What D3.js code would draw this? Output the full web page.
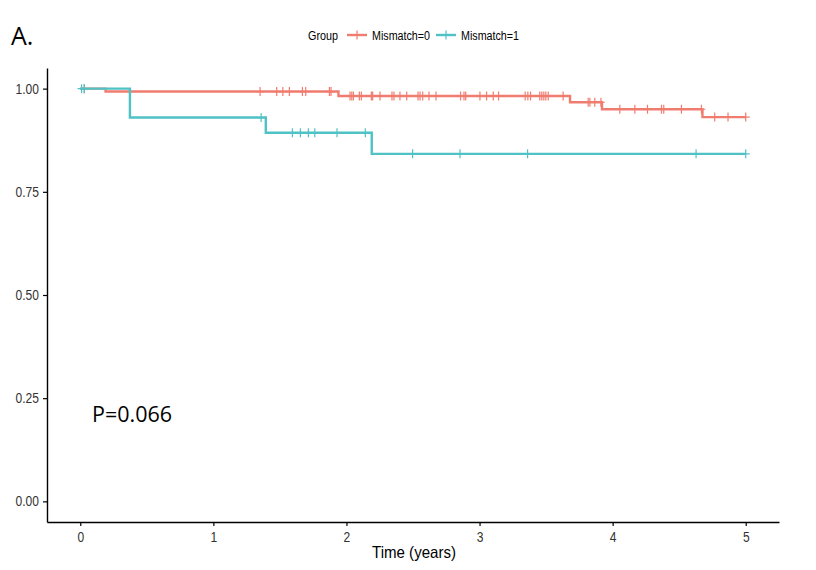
<!DOCTYPE html>
<html><head><meta charset="utf-8">
<script src="https://cdn.jsdelivr.net/npm/d3@7"></script>
<style>body{margin:0;background:#fff}</style>
</head><body>
<svg id="c" width="816" height="570"></svg>
<script>
const groups = ["Mismatch=0", "Mismatch=1"];
const colors = ["#F07C70", "#4FC2C6"];
// Mismatch=0
const g0EventTimes = [0.19, 1.94, 3.68, 3.92, 4.675];
const g0Survival = [0.993, 0.982, 0.967, 0.950, 0.931];
const g0Censor = [0.03, 1.351, 1.476, 1.522, 1.571, 1.669, 1.694, 1.872, 1.884,
  2.027, 2.04, 2.052, 2.097, 2.112, 2.187, 2.197, 2.252, 2.342, 2.357, 2.402, 2.453,
  2.538, 2.553, 2.573, 2.62, 2.673, 2.858, 2.883, 2.896, 3.003, 3.053, 3.103, 3.143,
  3.343, 3.363, 3.383, 3.453, 3.468, 3.483, 3.498, 3.516, 3.628, 3.816, 3.829, 3.866,
  3.912, 4.054, 4.167, 4.262, 4.367, 4.384, 4.517, 4.667, 4.767, 4.867, 5.0];
const g0End = 5.0;
// Mismatch=1
const g1EventTimes = [0.373, 1.394, 2.19];
const g1Survival = [0.930, 0.893, 0.842];
const g1Censor = [0.01, 0.03, 1.359, 1.594, 1.654, 1.714, 1.762, 1.929, 2.142,
  2.497, 2.853, 3.361, 4.627, 5.0];
const g1End = 5.0;

const xTicks = [0, 1, 2, 3, 4, 5];
const yTicks = [0, 0.25, 0.5, 0.75, 1.0];

const FONT = "Liberation Sans, Arial, sans-serif";
const svg = d3.select("#c");
const x = d3.scaleLinear().domain([-0.25, 5.25]).range([47, 779]);
const y = d3.scaleLinear().domain([-0.05, 1.05]).range([522, 68]);

// axes
const xAxis = svg.append("g").attr("transform", "translate(0,522)")
  .call(d3.axisBottom(x).tickValues(xTicks).tickSize(4).tickSizeOuter(0).tickFormat(d3.format("d")));
const yAxis = svg.append("g").attr("transform", "translate(47,0)")
  .call(d3.axisLeft(y).tickValues(yTicks).tickSize(4).tickSizeOuter(0).tickFormat(d3.format(".2f")));
[xAxis, yAxis].forEach(a => {
  a.select(".domain").attr("stroke", "#000").attr("stroke-width", 1.4);
  a.selectAll(".tick line").attr("stroke", "#000").attr("stroke-width", 1.2);
  a.selectAll(".tick text").attr("fill", "#333")
    .attr("font-family", FONT).attr("font-size", 14);
});
xAxis.selectAll(".tick text").attr("dy", "0.95em");
[xAxis, yAxis].forEach(a => a.selectAll(".tick text").each(function() {
  const w = this.getComputedTextLength();
  d3.select(this).attr("textLength", w * 0.86).attr("lengthAdjust", "spacingAndGlyphs");
}));
yAxis.selectAll(".tick text").attr("dx", "-1px");

svg.append("text").attr("x", 414).attr("y", 558).attr("text-anchor", "middle")
  .attr("font-family", FONT).attr("font-size", 16.5)
  .attr("textLength", 84).attr("lengthAdjust", "spacingAndGlyphs")
  .attr("fill", "#000").text("Time (years)");

function stepPoints(times, surv, end) {
  const pts = [[0, 1]];
  let cur = 1;
  times.forEach((t, i) => { pts.push([t, cur]); cur = surv[i]; pts.push([t, cur]); });
  pts.push([end, cur]);
  return pts;
}
function survAt(times, surv, t) {
  let s = 1;
  times.forEach((tt, i) => { if (tt <= t) s = surv[i]; });
  return s;
}
const data = [
  {times: g0EventTimes, surv: g0Survival, cens: g0Censor, end: g0End},
  {times: g1EventTimes, surv: g1Survival, cens: g1Censor, end: g1End}
];
const line = d3.line().x(d => x(d[0])).y(d => y(d[1]));
data.forEach((d, i) => {
  svg.append("path").datum(stepPoints(d.times, d.surv, d.end))
    .attr("d", line).attr("fill", "none").attr("stroke", colors[i]).attr("stroke-width", 2.4);
  const g = svg.append("g");
  d.cens.forEach(t => {
    const cx = x(t), cy = y(survAt(d.times, d.surv, t));
    g.append("path").attr("d", `M${cx},${cy - 4.5}V${cy + 4.5}M${cx - 4},${cy}H${cx + 4}`)
      .attr("stroke", colors[i]).attr("stroke-width", 1.2).attr("fill", "none");
  });
});

// legend
const lg = svg.append("g").attr("font-family", FONT).attr("font-size", 12.5);
lg.append("text").attr("x", 308).attr("y", 39.5).text("Group").attr("fill", "#000")
  .attr("textLength", 30).attr("lengthAdjust", "spacingAndGlyphs");
const keyX = [347, 436];
groups.forEach((gname, i) => {
  const kx = keyX[i];
  lg.append("path").attr("d", `M${kx},35H${kx + 20}`).attr("stroke", colors[i]).attr("stroke-width", 2.4);
  lg.append("path").attr("d", `M${kx + 10},30.5V39.5`).attr("stroke", colors[i]).attr("stroke-width", 1.2);
  lg.append("text").attr("x", kx + 25).attr("y", 39.5).text(gname).attr("fill", "#000")
    .attr("textLength", 58).attr("lengthAdjust", "spacingAndGlyphs");
});

svg.append("text").attr("x", 11).attr("y", 45).attr("font-family", "Open Sans, Noto Sans, sans-serif")
  .attr("font-size", 25).attr("fill", "#000").text("A.");
svg.append("text").attr("x", 92).attr("y", 422).attr("font-family", "Open Sans, Noto Sans, sans-serif")
  .attr("font-size", 22).attr("fill", "#000")
  .attr("textLength", 80).attr("lengthAdjust", "spacingAndGlyphs").text("P=0.066");
</script>
</body></html>
